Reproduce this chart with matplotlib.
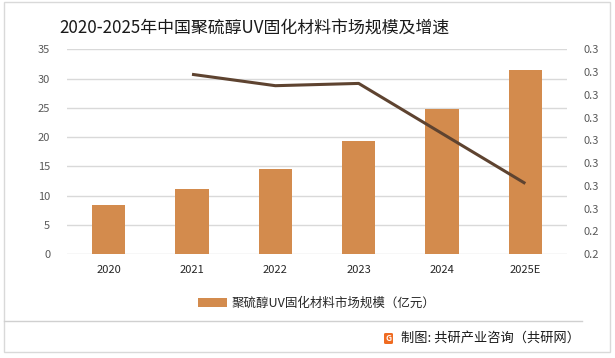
import matplotlib.pyplot as plt
from matplotlib.patches import Rectangle, FancyBboxPatch
import numpy as np

plt.rcParams['font.family'] = ['Noto Sans CJK SC', 'DejaVu Sans']

YEARS = ["2020", "2021", "2022", "2023", "2024", "2025E"]
MARKET = [8.4, 11.1, 14.5, 19.3, 24.8, 31.5]
GROWTH_YEARS = ["2021", "2022", "2023", "2024", "2025E"]
GROWTH = [0.309, 0.304, 0.305, 0.283, 0.261]

LEFT_TICKS = [0, 5, 10, 15, 20, 25, 30, 35]
RIGHT_TICKS = [0.23, 0.24, 0.25, 0.26, 0.27, 0.28, 0.29, 0.30, 0.31, 0.32]
RIGHT_LABELS = ["0.2", "0.2", "0.3", "0.3", "0.3", "0.3", "0.3", "0.3", "0.3", "0.3"]

TITLE = "2020-2025年中国聚硫醇UV固化材料市场规模及增速"
LEGEND = "聚硫醇UV固化材料市场规模（亿元）"
SOURCE = "制图: 共研产业咨询（共研网）"

BAR_COLOR = "#d38b4d"
LINE_COLOR = "#5e4330"
GRID_COLOR = "#d9d9d9"
TEXT_COLOR = "#595959"

fig = plt.figure(figsize=(6.15, 3.58), dpi=100)
fig.patch.set_facecolor("white")

# outer frame
fig.patches.append(Rectangle((4 / 615, 6 / 358), 606 / 615, 350 / 358,
                             transform=fig.transFigure, fill=False,
                             edgecolor="#d9d9d9", linewidth=1))

ax = fig.add_axes([67 / 615, 1 - 254 / 358, 500 / 615, (254 - 49.3) / 358])
x = np.arange(len(YEARS))
bars = ax.bar(x, MARKET, width=0.4, color=BAR_COLOR, zorder=2, label=LEGEND)
ax.set_xlim(-0.5, len(YEARS) - 0.5)
ax.set_ylim(0, 35)
ax.set_yticks(LEFT_TICKS)
ax.set_xticks(x)
ax.set_xticklabels(YEARS)
ax.yaxis.grid(True, color=GRID_COLOR, linewidth=1, zorder=0)
ax.set_axisbelow(True)
for s in ax.spines.values():
    s.set_visible(False)
ax.tick_params(axis="both", length=0, labelsize=8, colors=TEXT_COLOR)
ax.tick_params(axis="x", pad=8, labelcolor="#262626")
ax.tick_params(axis="y", pad=12)

ax2 = ax.twinx()
gx = [YEARS.index(y) for y in GROWTH_YEARS]
ax2.plot(gx, GROWTH, color=LINE_COLOR, linewidth=2.2, solid_capstyle="butt", zorder=3)
ax2.set_ylim(0.23, 0.32)
ax2.set_yticks(RIGHT_TICKS)
ax2.set_yticklabels(RIGHT_LABELS)
for s in ax2.spines.values():
    s.set_visible(False)
ax2.tick_params(axis="y", length=0, labelsize=8, colors=TEXT_COLOR, pad=12)

fig.text(254 / 615, 1 - 28 / 358, TITLE, ha="center", va="center",
         fontsize=12.2, color="#1a1a1a")

leg = fig.legend(handles=[bars], labels=[LEGEND], loc="center",
                 bbox_to_anchor=(317 / 615, 1 - 303 / 358), frameon=False,
                 fontsize=9, handlelength=2.3, handleheight=0.7, handletextpad=0.4)
for t in leg.get_texts():
    t.set_color("#262626")

# separator line above source
fig.add_artist(plt.Line2D([4 / 615, 582 / 615], [1 - 321 / 358, 1 - 321 / 358],
                          transform=fig.transFigure, color="#d0d0d0", linewidth=1))

# small logo and source
fig.patches.append(FancyBboxPatch((384 / 615, 1 - 344 / 358), 9 / 615, 11 / 358,
                                  boxstyle="round,pad=0,rounding_size=0.003",
                                  transform=fig.transFigure, facecolor="#ef6b21",
                                  edgecolor="none"))
fig.text(388.5 / 615, 1 - 338.5 / 358, "G", ha="center", va="center",
         fontsize=6, color="white", fontweight="bold")
fig.text(401 / 615, 1 - 338 / 358, SOURCE, ha="left", va="center",
         fontsize=9.5, color="#1a1a1a")

fig.savefig("out.png", dpi=100)
